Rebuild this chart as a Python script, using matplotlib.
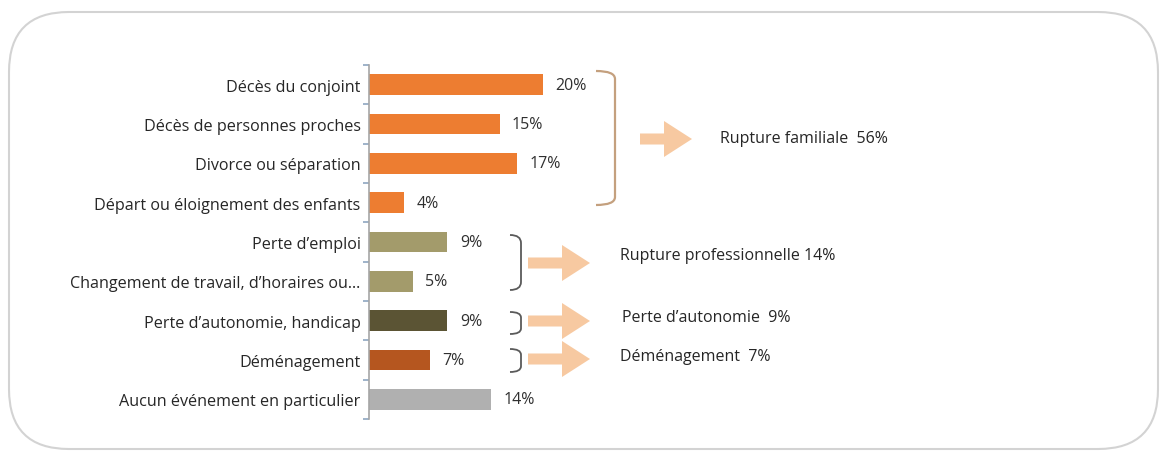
import numpy as np
import matplotlib.pyplot as plt
from matplotlib.patches import FancyBboxPatch, FancyArrow, PathPatch
from matplotlib.path import Path
from matplotlib.transforms import Affine2D

plt.rcParams['font.family'] = ['Open Sans', 'DejaVu Sans']

# Données
evenements = ['Décès du conjoint', 'Décès de personnes proches', 'Divorce ou séparation',
              'Départ ou éloignement des enfants', 'Perte d’emploi',
              'Changement de travail, d’horaires ou…', 'Perte d’autonomie, handicap',
              'Déménagement', 'Aucun événement en particulier']
pourcentages = [20, 15, 17, 4, 9, 5, 9, 7, 14]
couleurs = ['#ED7D31', '#ED7D31', '#ED7D31', '#ED7D31', '#A39B6B', '#A39B6B',
            '#5B5434', '#B5561F', '#B0B0B0']

groupes = ['Rupture familiale  56%', 'Rupture professionnelle 14%',
           'Perte d’autonomie  9%', 'Déménagement  7%']

W, H = 1160, 452
fig = plt.figure(figsize=(W / 100, H / 100), dpi=100)
px = Affine2D().scale(1 / W, -1 / H).translate(0, 1) + fig.transFigure

# cadre arrondi
cadre = FancyBboxPatch((9, 13), 1149, 437, boxstyle='round,pad=0,rounding_size=60',
                       transform=px, fc='none', ec='#D3D3D3', lw=1.5, zorder=0)
fig.patches.append(cadre)

ax = fig.add_axes([369 / W, 1 - 420 / H, 400 / W, (420 - 66) / H])
ax.patch.set_alpha(0)
y = np.arange(len(evenements))
ax.barh(y, pourcentages, height=0.52, color=couleurs)
ax.set_xlim(0, 400 / 8.7)
ax.set_ylim(len(evenements) - 0.5, -0.5)

for yi, v in zip(y, pourcentages):
    ax.annotate(f'{v}%', (v, yi), xytext=(9, 0), textcoords='offset points',
                va='center', ha='left', fontsize=11.5, color='#303030')

ax.set_yticks(y)
ax.set_yticklabels(evenements, fontsize=11.6, color='#262626')
ax.set_yticks(np.arange(-0.5, len(evenements)), minor=True)
ax.tick_params(axis='y', which='major', length=0, pad=6)
ax.tick_params(axis='y', which='minor', length=4, color='#8EA6C0', width=1.2)
ax.set_xticks([])
for s in ['top', 'right', 'bottom']:
    ax.spines[s].set_visible(False)
ax.spines['left'].set_color('#A6A6A6')
ax.spines['left'].set_linewidth(1.2)

# accolades
def crochet(x0, x1, ya, yb, couleur, lw):
    r = min(8, (yb - ya) / 4)
    verts = [(x0, ya), (x1, ya), (x1, ya + r), (x1, yb - r), (x1, yb), (x0, yb)]
    codes = [Path.MOVETO, Path.CURVE3, Path.CURVE3, Path.LINETO, Path.CURVE3, Path.CURVE3]
    fig.patches.append(PathPatch(Path(verts, codes), fc='none', ec=couleur, lw=lw,
                                 transform=px))

crochet(596, 615, 72, 206, '#C4A07E', 1.6)
crochet(510, 521, 236, 291, '#5A5A5A', 1.3)
crochet(510, 521, 313, 335, '#5A5A5A', 1.3)
crochet(510, 521, 350, 373, '#5A5A5A', 1.3)

# flèches
fleches = [(640, 140, 52), (528, 264, 62), (528, 322, 62), (528, 360, 62)]
for xf, yf, dx in fleches:
    fig.patches.append(FancyArrow(xf, yf, dx, 0, width=11, head_width=36, head_length=28,
                                  length_includes_head=True, transform=px,
                                  fc='#F7C9A1', ec='none'))

positions = [(720, 139), (620, 256), (622, 318), (620, 357)]
for txt, (xt, yt) in zip(groupes, positions):
    fig.text(xt, yt, txt, transform=px, fontsize=11.5, color='#262626', va='center', ha='left')

fig.savefig('out.png', dpi=100)
